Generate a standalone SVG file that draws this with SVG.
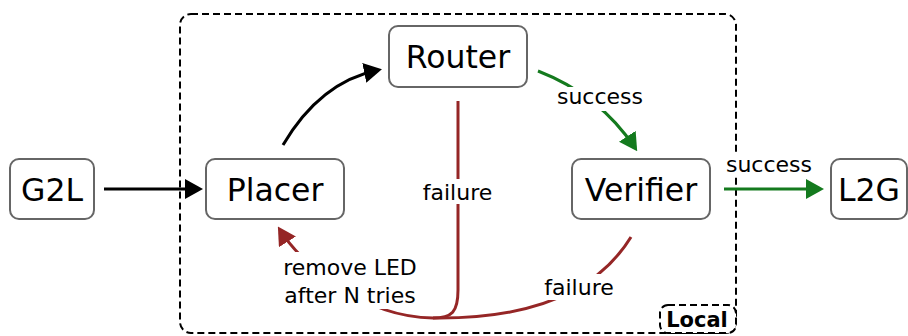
<svg xmlns="http://www.w3.org/2000/svg" width="908" height="336" viewBox="0 0 908 336">
<style>
.node rect{fill:#fff;stroke:#666;stroke-width:2}
.node text{font-family:"DejaVu Sans",sans-serif;font-size:31.5px;fill:#000;text-anchor:middle}
.lbl{font-family:"DejaVu Sans",sans-serif;font-size:22px;fill:#000;text-anchor:middle}
.bg{fill:#fff;stroke:none}
.c{fill:none;stroke-width:3}
.k{stroke:#000}
.g{stroke:#147a1e}
.r{stroke:#952626}
.dash{fill:none;stroke:#000;stroke-width:2;stroke-dasharray:7 4}
</style>
<defs>
<marker id="ak" markerUnits="userSpaceOnUse" markerWidth="18" markerHeight="20" refX="14" refY="10" orient="auto"><path d="M0,0 L18,10 L0,20 Z" fill="#000"/></marker>
<marker id="ag" markerUnits="userSpaceOnUse" markerWidth="18" markerHeight="20" refX="14" refY="10" orient="auto"><path d="M0,0 L18,10 L0,20 Z" fill="#147a1e"/></marker>
<marker id="ar" markerUnits="userSpaceOnUse" markerWidth="18" markerHeight="20" refX="14" refY="10" orient="auto"><path d="M0,0 L18,10 L0,20 Z" fill="#952626"/></marker>
</defs>
<g id="local">
<rect class="dash" x="180" y="14" width="556" height="319" rx="11"/>
</g>
<g id="connectors">
<path class="c k" d="M104,189 H199" marker-end="url(#ak)"/>
<path class="c k" d="M283,145 Q320,82 378,70" marker-end="url(#ak)"/>
<path class="c g" d="M538,71 Q600,95 635,148" marker-end="url(#ag)"/>
<path class="c g" d="M724,189 H820" marker-end="url(#ag)"/>
<path class="c r" d="M458,101 V290 C458,312 452,318 433,318"/>
<path class="c r" d="M631,237 Q580,320 433,318 C360,317 300,262 280,230" marker-end="url(#ar)"/>
<rect class="bg" x="421" y="179" width="73" height="25"/>
<text class="lbl" x="457.5" y="200">failure</text>
<rect class="bg" x="556" y="87" width="88" height="24"/>
<text class="lbl" x="600" y="104">success</text>
<rect class="bg" x="725" y="152" width="88" height="23"/>
<text class="lbl" x="769" y="172">success</text>
<rect class="bg" x="544" y="274" width="71" height="26"/>
<text class="lbl" x="579" y="295">failure</text>
<rect class="bg" x="279" y="252" width="142" height="57"/>
<text class="lbl" x="350" y="275">remove LED</text>
<text class="lbl" x="350" y="303">after N tries</text>
</g>
<g id="local-label">
<rect x="660" y="305" width="76" height="28" rx="8" fill="#fff" stroke="#000" stroke-width="2" stroke-dasharray="7 4"/>
<text x="697" y="327" font-family="DejaVu Sans, sans-serif" font-size="21" font-weight="bold" text-anchor="middle">Local</text>
</g>
<g id="router" class="node"><rect x="389" y="26" width="138" height="61" rx="9"/><text x="458" y="68">Router</text></g>
<g id="placer" class="node"><rect x="206" y="159" width="138" height="60" rx="9"/><text x="275" y="201">Placer</text></g>
<g id="g2l" class="node"><rect x="10" y="159" width="84" height="60" rx="9"/><text x="52" y="201">G2L</text></g>
<g id="verifier" class="node"><rect x="572" y="159" width="138" height="60" rx="9"/><text x="641" y="201">Verifier</text></g>
<g id="l2g" class="node"><rect x="831" y="159" width="76" height="60" rx="9"/><text x="869" y="201">L2G</text></g>
</svg>
